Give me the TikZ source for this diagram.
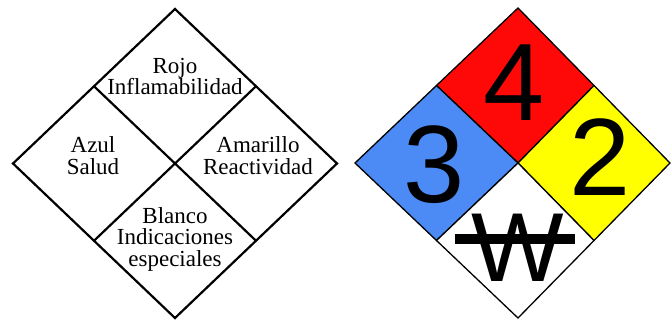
\documentclass[tikz,border=0pt]{standalone}
\usepackage{fontspec}
\usetikzlibrary{calc}
\setmainfont{Liberation Serif}
\newfontfamily\numfont{Liberation Sans}
\definecolor{nfpared}{RGB}{255,8,8}
\definecolor{nfpablue}{RGB}{76,139,245}
\definecolor{nfpayellow}{RGB}{255,255,0}
\tikzset{
  lbl/.style={align=center, inner sep=0pt, font=\fontsize{23}{21.5}\selectfont},
  digit/.style={inner sep=0pt, font=\numfont\fontsize{110}{110}\selectfont},
  keyline/.style={line width=2.2pt, line join=miter},
  quad/.style={draw=black, line width=1.3pt, line join=miter}
}
\begin{document}
\begin{tikzpicture}[x=1pt,y=-1pt]
\useasboundingbox (0,0) rectangle (672,320);
% ---- left key diamond ----
\coordinate (lT) at (175,9);
\coordinate (lL) at (13,163.5);
\coordinate (lR) at (337,163.5);
\coordinate (lB) at (175,318);
\draw[keyline] (lT) -- (lR) -- (lB) -- (lL) -- cycle;
\draw[keyline] ($(lT)!0.5!(lL)$) -- ($(lR)!0.5!(lB)$);
\draw[keyline] ($(lT)!0.5!(lR)$) -- ($(lL)!0.5!(lB)$);
\node[lbl] (rojo) at (175,76.5) {Rojo\\Inflamabilidad};
\node[lbl] (azul) at (93,155.5) {Azul\\Salud};
\node[lbl] (amar) at (258,155.5) {Amarillo\\Reactividad};
\node[lbl] (blan) at (175,239) {Blanco\\Indicaciones\\especiales};
% ---- right NFPA diamond ----
\coordinate (rT) at (518,8);
\coordinate (rL) at (355,163);
\coordinate (rR) at (670,163);
\coordinate (rB) at (518,318);
\coordinate (rC) at (518,163);
\coordinate (rTL) at ($(rT)!0.5!(rL)$);
\coordinate (rTR) at ($(rT)!0.5!(rR)$);
\coordinate (rBL) at ($(rB)!0.5!(rL)$);
\coordinate (rBR) at ($(rB)!0.5!(rR)$);
\filldraw[quad, fill=nfpared] (rT) -- (rTR) -- (rC) -- (rTL) -- cycle;
\filldraw[quad, fill=nfpablue] (rL) -- (rTL) -- (rC) -- (rBL) -- cycle;
\filldraw[quad, fill=nfpayellow] (rR) -- (rTR) -- (rC) -- (rBR) -- cycle;
\filldraw[quad, fill=white] (rB) -- (rBL) -- (rC) -- (rBR) -- cycle;
\node[digit] (four) at (514,82.5) {4};
\node[digit] (three) at (434,165) {3};
\node[digit] (two) at (600,157) {2};
\node[inner sep=0pt, font=\numfont\fontsize{98}{98}\selectfont] (wsym) at (518,248) {W};
\coordinate (sA) at (455,239);
\coordinate (sB) at (575,239);
\draw[line width=10pt] (sA) -- (sB);
\end{tikzpicture}
\end{document}
